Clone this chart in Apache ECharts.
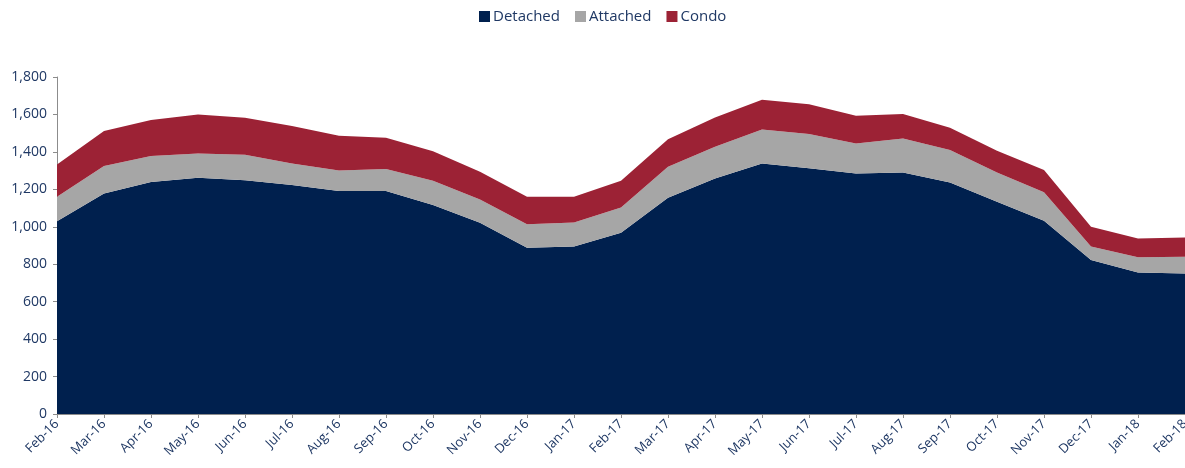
<!DOCTYPE html>
<html>
<head>
<meta charset="utf-8">
<script src="https://cdn.jsdelivr.net/npm/echarts@6/dist/echarts.min.js"></script>
<style>html,body{margin:0;padding:0;background:#fff;}#c{width:1185px;height:468px;}</style>
</head>
<body>
<div id="c"></div>
<script>
const categories = ['Feb-16','Mar-16','Apr-16','May-16','Jun-16','Jul-16','Aug-16','Sep-16','Oct-16','Nov-16','Dec-16','Jan-17','Feb-17','Mar-17','Apr-17','May-17','Jun-17','Jul-17','Aug-17','Sep-17','Oct-17','Nov-17','Dec-17','Jan-18','Feb-18'];
const detached = [1030,1178,1239,1262,1248,1223,1191,1191,1116,1022,888,894,968,1155,1258,1338,1312,1285,1290,1237,1134,1032,822,756,751];
const attached = [130,146,139,130,137,115,110,117,130,124,125,129,135,165,169,181,183,160,182,173,156,153,72,81,89];
const condo = [173,187,192,208,198,200,185,168,158,148,147,137,143,148,157,160,159,148,130,119,116,118,106,101,103];

const font = '"Open Sans", "Noto Sans", sans-serif';
const txt = '#1f3864';
const chart = echarts.init(document.getElementById('c'));
function s(name, data, color) {
  return {
    name, type: 'line', stack: 'total', data, symbol: 'none', showSymbol: false,
    lineStyle: { width: 0 }, itemStyle: { color },
    areaStyle: { color, opacity: 1 }, emphasis: { disabled: true }
  };
}
chart.setOption({
  animation: false,
  legend: {
    top: 4, left: 474, itemWidth: 11, itemHeight: 11, itemGap: 15,
    icon: 'rect',
    textStyle: { fontFamily: font, fontSize: 15, color: txt, padding: [0, 0, 0, -2] },
    data: ['Detached', 'Attached', 'Condo']
  },
  grid: { left: 57, right: 0, top: 77, bottom: 54, containLabel: false, outerBoundsMode: 'none' },
  xAxis: {
    type: 'category', data: categories, boundaryGap: false,
    axisLine: { lineStyle: { color: '#8c8c8c', width: 1 } },
    axisTick: { show: true, alignWithLabel: true, length: 4, lineStyle: { color: '#8c8c8c' } },
    axisLabel: { rotate: 45, fontFamily: font, fontSize: 13, color: txt, margin: 8, interval: 0, hideOverlap: false },
    splitLine: { show: false }
  },
  yAxis: {
    type: 'value', min: 0, max: 1800, interval: 200,
    axisLine: { show: true, lineStyle: { color: '#8c8c8c', width: 1 } },
    axisTick: { show: true, length: 4, lineStyle: { color: '#8c8c8c' } },
    axisLabel: { fontFamily: font, fontSize: 14, color: txt, margin: 10,
      formatter: v => v.toLocaleString('en-US') },
    splitLine: { show: false }
  },
  series: [
    s('Detached', detached, '#00204e'),
    s('Attached', attached, '#a6a6a6'),
    s('Condo', condo, '#9c2235')
  ]
});
</script>
</body>
</html>
